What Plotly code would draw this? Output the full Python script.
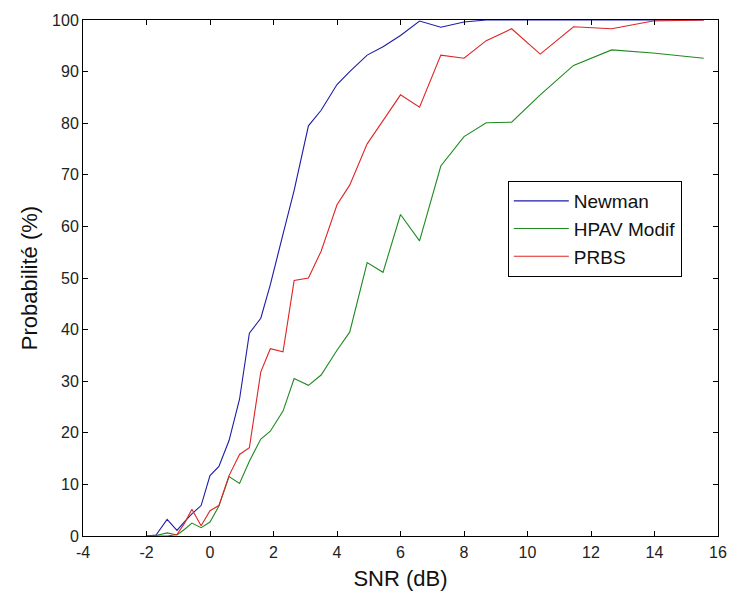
import plotly.graph_objects as go

snr = [-2.0, -1.7, -1.35, -1.04, -0.8, -0.57, -0.28, 0.0, 0.28, 0.6, 0.93, 1.24, 1.6, 1.9,
       2.3, 2.65, 3.1, 3.5, 4.0, 4.4, 4.95, 5.45, 6.0, 6.6, 7.27, 8.0, 8.7, 9.5, 10.4,
       11.45, 12.65, 13.95, 15.55]

newman = [0, 0.2, 3.2, 1.1, 2.8, 4.3, 5.9, 11.7, 13.5, 18.5, 26.5, 39.3, 42.2, 48.7,
          58.5, 67.0, 79.5, 82.5, 87.5, 90.0, 93.2, 94.8, 97.0, 99.8, 98.6, 99.6, 100,
          100, 100, 100, 100, 100, 100]

hpav = [0, 0.1, 0.6, 0.2, 1.3, 2.5, 1.6, 2.7, 5.8, 11.5, 10.2, 14.5, 18.8, 20.3,
        24.2, 30.5, 29.2, 31.2, 36.0, 39.5, 53.0, 51.1, 62.3, 57.2, 71.7, 77.4, 80.1,
        80.2, 85.5, 91.2, 94.2, 93.6, 92.6]

prbs = [0, 0, 0, 0.3, 2.5, 5.2, 2.0, 4.9, 5.9, 11.7, 15.8, 17.1, 31.8, 36.3,
        35.7, 49.5, 50.0, 55.2, 64.2, 68.0, 76.0, 80.5, 85.5, 83.1, 93.2, 92.6, 96.0,
        98.3, 93.4, 98.7, 98.3, 99.8, 100]

x_ticks = [-4, -2, 0, 2, 4, 6, 8, 10, 12, 14, 16]
x_labels = ["-4", "-2", "0", "2", "4", "6", "8", "10", "12", "14", "16"]
y_ticks = [0, 10, 20, 30, 40, 50, 60, 70, 80, 90, 100]
y_labels = ["0", "10", "20", "30", "40", "50", "60", "70", "80", "90", "100"]

series = [("Newman", newman, "#1c1ca8"), ("HPAV Modif", hpav, "#1f8a1f"), ("PRBS", prbs, "#e02424")]

FONT = "Liberation Sans, Arial"

fig = go.Figure()
for name, vals, col in series:
    fig.add_trace(go.Scatter(x=snr, y=vals, mode="lines", name=name, legendgroup=name,
                             line=dict(color=col, width=1.1)))

axis_common = dict(showline=True, linecolor="black", linewidth=1, mirror="ticks",
                   ticks="inside", ticklen=5, tickcolor="black", showgrid=False,
                   zeroline=False,
                   tickfont=dict(family=FONT, size=16, color="#222"))

fig.update_layout(
    width=739, height=599,
    margin=dict(l=83, r=12, t=17, b=62),
    paper_bgcolor="white", plot_bgcolor="white",
    xaxis=dict(range=[-4, 16], tickmode="array", tickvals=x_ticks, ticktext=x_labels,
               ticklabelstandoff=2,
               title=dict(text="SNR (dB)", standoff=10,
                          font=dict(family=FONT, size=22, color="#111")),
               **axis_common),
    yaxis=dict(range=[0, 100], tickmode="array", tickvals=y_ticks, ticktext=y_labels,
               title=dict(text="Probabilité (%)", standoff=8,
                          font=dict(family=FONT, size=22, color="#111")),
               **axis_common),
    legend=dict(x=0.669, y=0.688, xanchor="left", yanchor="top",
                bgcolor="white", bordercolor="black", borderwidth=1,
                font=dict(family=FONT, size=19, color="#111"),
                traceorder="grouped", tracegroupgap=0, itemwidth=55),
    showlegend=True,
)

fig.write_html("out.html")
